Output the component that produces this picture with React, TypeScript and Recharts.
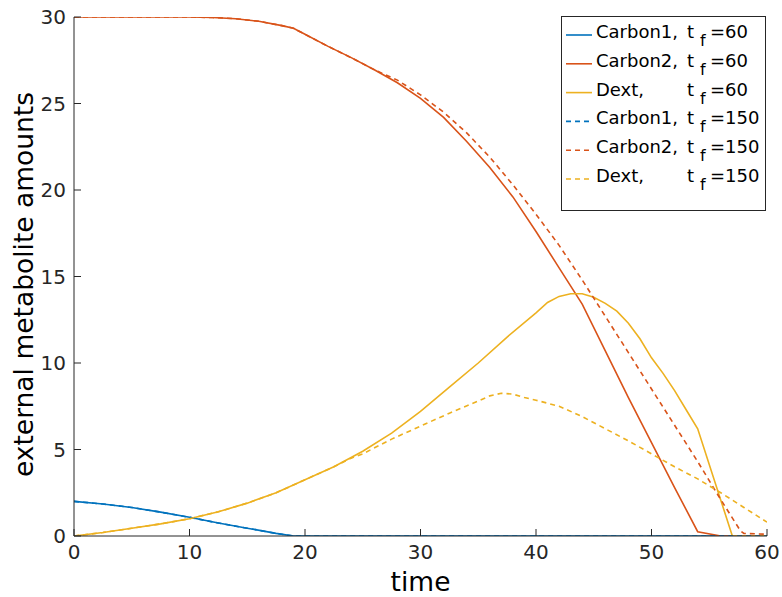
import { LineChart, Line, XAxis, YAxis, Legend, Label } from "recharts";

// time points and values
const C1_T = [0, 2.5, 5, 7.5, 10, 12.5, 15, 17.5, 19, 20, 30, 40, 50, 60];
const C1_60 = [2.0, 1.85, 1.65, 1.38, 1.08, 0.75, 0.45, 0.15, 0, 0, 0, 0, 0, 0];
const C1_150 = [2.0, 1.85, 1.65, 1.38, 1.08, 0.75, 0.45, 0.15, 0, 0, 0, 0, 0, 0];

const C2_60_T = [0, 5, 10, 12, 14, 16, 18, 19, 20, 22, 24, 26, 28, 30, 32, 34, 36, 38, 40, 42, 44, 46, 48, 50, 52, 54, 56, 60];
const C2_60 = [30, 30, 30, 29.97, 29.9, 29.75, 29.5, 29.35, 29.0, 28.3, 27.65, 26.95, 26.2, 25.3, 24.2, 22.8, 21.3, 19.6, 17.6, 15.5, 13.4, 10.7, 8.0, 5.4, 2.8, 0.25, 0, 0];

const C2_150_T = [0, 5, 10, 12, 14, 16, 18, 19, 20, 22, 24, 26, 28, 30, 32, 34, 36, 38, 40, 42, 44, 46, 48, 50, 52, 54, 56, 57.7, 58, 60];
const C2_150 = [30, 30, 30, 29.97, 29.9, 29.75, 29.5, 29.35, 29.0, 28.3, 27.65, 26.95, 26.35, 25.5, 24.5, 23.3, 21.9, 20.3, 18.6, 16.8, 14.8, 12.7, 10.6, 8.5, 6.4, 4.3, 2.1, 0.3, 0.15, 0.1];

const DX_60_T = [0, 2.5, 5, 7.5, 10, 12.5, 15, 17.5, 20, 22.5, 25, 27.5, 30, 32.5, 35, 37.5, 40, 41, 42, 43, 44, 45, 46, 47, 48, 49, 50, 51, 52, 53, 54, 57, 60];
const DX_60 = [0, 0.2, 0.45, 0.7, 1.0, 1.4, 1.9, 2.5, 3.25, 4.0, 4.9, 5.95, 7.2, 8.6, 10.0, 11.5, 12.9, 13.5, 13.85, 14.0, 14.0, 13.8, 13.45, 13.0, 12.3, 11.4, 10.3, 9.4, 8.4, 7.3, 6.2, 0, 0];

const DX_150_T = [0, 2.5, 5, 7.5, 10, 12.5, 15, 17.5, 20, 22.5, 24, 25, 27.5, 30, 32.5, 35, 36, 37, 38, 39, 40, 42, 44, 46, 48, 50, 52, 54, 56, 58, 60];
const DX_150 = [0, 0.2, 0.45, 0.7, 1.0, 1.4, 1.9, 2.5, 3.25, 4.0, 4.5, 4.75, 5.6, 6.35, 7.1, 7.8, 8.1, 8.25, 8.2, 8.0, 7.85, 7.5, 6.9, 6.2, 5.5, 4.75, 4.0, 3.3, 2.5, 1.65, 0.8];

const X_TICKS = [0, 10, 20, 30, 40, 50, 60];
const Y_TICKS = [0, 5, 10, 15, 20, 25, 30];

const BLUE = "#0072BD";
const RED = "#D95319";
const YELLOW = "#EDB120";
const INK = "#262626";
const FONT = "DejaVu Sans";

const pts = (ts: number[], vs: number[]) => ts.map((t, i) => ({ t, v: vs[i] }));

const SERIES = [
  { key: "c1_60", name: "Carbon1,", tf: "60", color: BLUE, dash: undefined, data: pts(C1_T, C1_60) },
  { key: "c2_60", name: "Carbon2,", tf: "60", color: RED, dash: undefined, data: pts(C2_60_T, C2_60) },
  { key: "dx_60", name: "Dext,", tf: "60", color: YELLOW, dash: undefined, data: pts(DX_60_T, DX_60) },
  { key: "c1_150", name: "Carbon1,", tf: "150", color: BLUE, dash: "5 4", data: pts(C1_T, C1_150) },
  { key: "c2_150", name: "Carbon2,", tf: "150", color: RED, dash: "5 4", data: pts(C2_150_T, C2_150) },
  { key: "dx_150", name: "Dext,", tf: "150", color: YELLOW, dash: "5 4", data: pts(DX_150_T, DX_150) },
];

const XTick = (props: any) => {
  const { x, y, payload } = props;
  return (
    <g>
      <line x1={x} x2={x} y1={y} y2={y - 7} stroke={INK} />
      <text x={x} y={y + 23} textAnchor="middle" fontSize={20} fontFamily={FONT} fill={INK}>
        {payload.value}
      </text>
    </g>
  );
};

const YTick = (props: any) => {
  const { x, y, payload } = props;
  return (
    <g>
      <line x1={x} x2={x + 7} y1={y} y2={y} stroke={INK} />
      <text x={x - 8} y={y + 7} textAnchor="end" fontSize={20} fontFamily={FONT} fill={INK}>
        {payload.value}
      </text>
    </g>
  );
};

const YTitle = (props: any) => {
  const vb = props.viewBox;
  const cx = vb.x + 33;
  const cy = vb.y + vb.height / 2 + 8;
  return (
    <text
      x={cx}
      y={cy}
      transform={`rotate(-90 ${cx} ${cy})`}
      textAnchor="middle"
      fontSize={26.5}
      fontFamily={FONT}
      fill="#000"
    >
      external metabolite amounts
    </text>
  );
};

const LegendBox = () => {
  const rowH = 28.8;
  return (
    <svg width={206} height={196} style={{ display: "block" }}>
      <rect x={0.5} y={0.5} width={204} height={194} fill="#fff" stroke={INK} />
      {SERIES.map((s, i) => {
        const base = 22 + i * rowH;
        return (
          <g key={s.key} fontFamily={FONT} fill="#000">
            <line x1={5} x2={31} y1={base - 3} y2={base - 3} stroke={s.color} strokeWidth={1.6} strokeDasharray={s.dash} />
            <text x={35} y={base} fontSize={18}>{s.name}</text>
            <text x={126} y={base} fontSize={18}>t</text>
            <text x={139} y={base + 8} fontSize={16}>f</text>
            <text x={149} y={base} fontSize={18}>={s.tf}</text>
          </g>
        );
      })}
    </svg>
  );
};

export default function App() {
  return (
    <div style={{ position: "absolute", left: 0, top: 0, background: "#fff" }}>
      <LineChart width={782} height={597} margin={{ top: 17, right: 15, bottom: 0, left: 0 }}>
        <XAxis
          type="number"
          dataKey="t"
          domain={[0, 60]}
          ticks={X_TICKS}
          allowDataOverflow
          height={61}
          tickSize={0}
          tickMargin={0}
          tickLine={false}
          tick={<XTick />}
          axisLine={{ stroke: INK }}
        >
          <Label value="time" position="insideBottom" offset={6} fontSize={26.5} fontFamily={FONT} fill="#000" />
        </XAxis>
        <YAxis
          type="number"
          domain={[0, 30]}
          ticks={Y_TICKS}
          allowDataOverflow
          width={74}
          tickSize={0}
          tickMargin={0}
          tickLine={false}
          tick={<YTick />}
          axisLine={{ stroke: INK }}
        >
          <Label content={<YTitle />} />
        </YAxis>
        {SERIES.map((s) => (
          <Line
            key={s.key}
            data={s.data}
            dataKey="v"
            name={s.key}
            type="linear"
            stroke={s.color}
            strokeWidth={1.6}
            strokeDasharray={s.dash}
            dot={false}
            activeDot={false}
            isAnimationActive={false}
          />
        ))}
        <Legend
          layout="vertical"
          align="center"
          verticalAlign="middle"
          content={<LegendBox />}
          wrapperStyle={{ position: "absolute", left: 561, top: 16, width: 206, height: 196 }}
        />
      </LineChart>
    </div>
  );
}
